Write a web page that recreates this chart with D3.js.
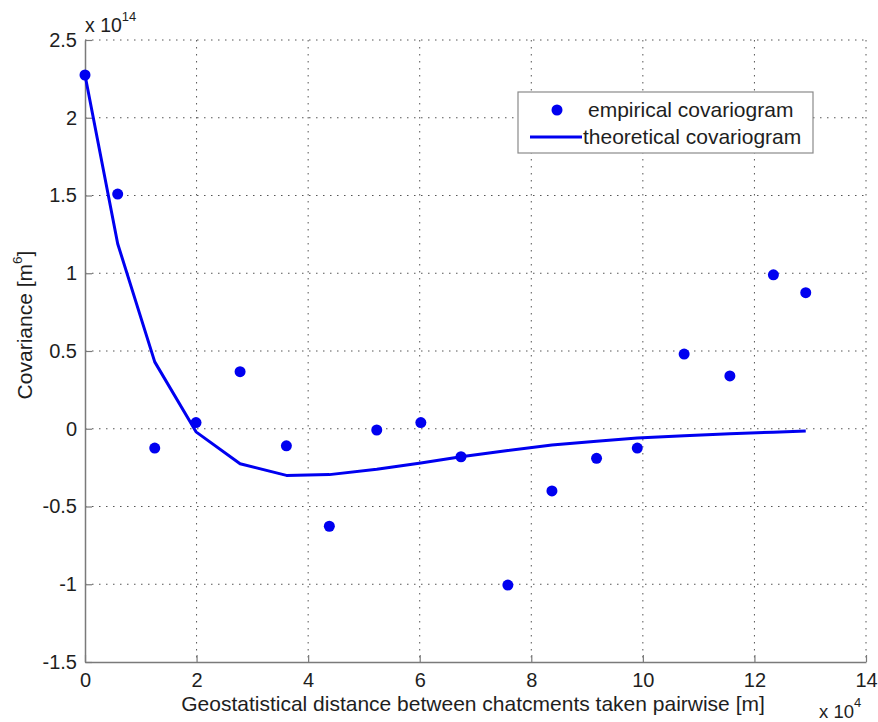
<!DOCTYPE html>
<html>
<head>
<meta charset="utf-8">
<script src="https://cdn.jsdelivr.net/npm/d3@7"></script>
<style>
  html, body { margin: 0; padding: 0; background: #fff; }
  svg { display: block; font-family: Arial, "Liberation Sans", sans-serif; }
</style>
</head>
<body>
<svg id="chart" width="878" height="722"></svg>
<script>
// Distance (x 10^4 m)
const distances = [0, 0.586, 1.25, 1.99, 2.78, 3.61, 4.38, 5.23, 6.02, 6.74, 7.58, 8.37, 9.17, 9.9, 10.74, 11.56, 12.34, 12.92];
// Empirical covariance (x 10^14 m^6)
const empirical = [2.275, 1.509, -0.124, 0.04, 0.367, -0.11, -0.627, -0.008, 0.04, -0.18, -1.005, -0.4, -0.19, -0.124, 0.48, 0.34, 0.99, 0.875];
// Theoretical covariance (x 10^14 m^6)
const theoretical = [2.275, 1.19, 0.43, -0.02, -0.225, -0.30, -0.295, -0.26, -0.22, -0.18, -0.14, -0.105, -0.08, -0.06, -0.045, -0.032, -0.022, -0.015];

const xTicks = [0, 2, 4, 6, 8, 10, 12, 14];
const yTicks = [-1.5, -1, -0.5, 0, 0.5, 1, 1.5, 2, 2.5];
const yTickLabels = ["-1.5", "-1", "-0.5", "0", "0.5", "1", "1.5", "2", "2.5"];
const legendLabels = ["empirical covariogram", "theoretical covariogram"];

(function () {
const svg = d3.select("#chart");
const pLeft = 85, pRight = 866, pTop = 40, pBottom = 662;

const x = d3.scaleLinear().domain([0, 14]).range([pLeft, pRight]);
const y = d3.scaleLinear().domain([-1.5, 2.5]).range([pBottom, pTop]);

const blue = "#0000f0";
const gridColor = "#555";
const axisColor = "#7a7a7a";
const textColor = "#1e1e1e";
const font = "Arial, 'Liberation Sans', sans-serif";

// Grid
const grid = svg.append("g");
grid.selectAll("line.vg").data(xTicks.filter(d => d !== 0)).join("line")
  .attr("x1", d => x(d)).attr("x2", d => x(d))
  .attr("y1", pTop).attr("y2", pBottom)
  .attr("stroke", gridColor).attr("stroke-width", 1)
  .attr("stroke-dasharray", "1.5,5.5");
grid.selectAll("line.hg").data(yTicks.filter(d => d !== -1.5)).join("line")
  .attr("x1", pLeft).attr("x2", pRight)
  .attr("y1", d => y(d)).attr("y2", d => y(d))
  .attr("stroke", gridColor).attr("stroke-width", 1)
  .attr("stroke-dasharray", "1.5,5.5");

// Axes
const xAxis = d3.axisBottom(x).tickValues(xTicks).tickSizeInner(-7).tickSizeOuter(0).tickPadding(11)
  .tickFormat(d => String(d));
const gx = svg.append("g").attr("transform", `translate(0,${pBottom})`).call(xAxis);
gx.select(".domain").attr("stroke", axisColor).attr("stroke-width", 1.5);
gx.selectAll(".tick line").attr("stroke", axisColor).attr("stroke-width", 1.2);
gx.selectAll(".tick text").attr("font-size", 20).attr("fill", textColor).attr("font-family", font);

const yAxis = d3.axisLeft(y).tickValues(yTicks).tickSizeInner(-7).tickSizeOuter(0).tickPadding(8)
  .tickFormat((d, i) => yTickLabels[i]);
const gy = svg.append("g").attr("transform", `translate(${pLeft},0)`).call(yAxis);
gy.select(".domain").attr("stroke", axisColor).attr("stroke-width", 1.5);
gy.selectAll(".tick line").attr("stroke", axisColor).attr("stroke-width", 1.2);
gy.selectAll(".tick text").attr("font-size", 20).attr("fill", textColor).attr("font-family", font);

// Exponent labels
const ex1 = svg.append("text").attr("x", pLeft).attr("y", 32).attr("font-size", 19.5).attr("fill", textColor);
ex1.append("tspan").text("x 10");
ex1.append("tspan").attr("font-size", 13).attr("dy", -11).text("14");

const ex2 = svg.append("text").attr("x", 819).attr("y", 718).attr("font-size", 18.5).attr("fill", textColor);
ex2.append("tspan").text("x 10");
ex2.append("tspan").attr("font-size", 13).attr("dy", -11).text("4");

// Axis labels
svg.append("text")
  .attr("x", 473).attr("y", 711)
  .attr("text-anchor", "middle").attr("font-size", 21).attr("fill", textColor)
  .text("Geostatistical distance between chatcments taken pairwise [m]");

const yl = svg.append("text")
  .attr("transform", `translate(32,325) rotate(-90)`)
  .attr("text-anchor", "middle").attr("font-size", 21).attr("fill", textColor);
yl.append("tspan").text("Covariance [m");
yl.append("tspan").attr("font-size", 13.5).attr("dy", -10).text("6");
yl.append("tspan").attr("dy", 10).text("]");

// Theoretical line
const line = d3.line().x((d, i) => x(distances[i])).y(d => y(d));
svg.append("path").datum(theoretical)
  .attr("d", line).attr("fill", "none")
  .attr("stroke", blue).attr("stroke-width", 3).attr("stroke-linejoin", "round");

// Empirical points
svg.append("g").selectAll("circle").data(empirical).join("circle")
  .attr("cx", (d, i) => x(distances[i])).attr("cy", d => y(d))
  .attr("r", 5.5).attr("fill", blue);

// Legend
const lg = svg.append("g");
lg.append("rect").attr("x", 518).attr("y", 92).attr("width", 295).attr("height", 61)
  .attr("fill", "#fff").attr("stroke", "#8a8a8a").attr("stroke-width", 1.2);
lg.append("circle").attr("cx", 557).attr("cy", 110).attr("r", 5.5).attr("fill", blue);
lg.append("line").attr("x1", 530).attr("x2", 582).attr("y1", 137).attr("y2", 137)
  .attr("stroke", blue).attr("stroke-width", 3);
lg.append("text").attr("x", 588).attr("y", 117).attr("font-size", 21).attr("fill", textColor).text(legendLabels[0]);
lg.append("text").attr("x", 583).attr("y", 144).attr("font-size", 21).attr("fill", textColor).text(legendLabels[1]);
})();
</script>
</body>
</html>
